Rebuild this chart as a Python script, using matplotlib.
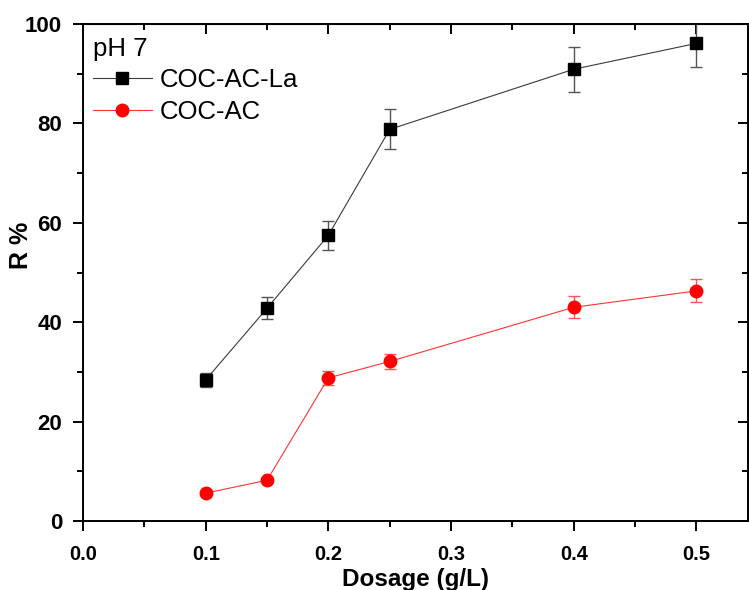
import matplotlib
matplotlib.use('Agg')
import matplotlib.pyplot as plt
from matplotlib.lines import Line2D
from matplotlib.ticker import MultipleLocator

plt.rcParams['font.family'] = ['Liberation Sans', 'DejaVu Sans']

dosage = [0.1, 0.15, 0.2, 0.25, 0.4, 0.5]
r_la = [28.4, 42.8, 57.5, 78.8, 90.9, 96.1]
err_la = [1.4, 2.2, 2.9, 4.0, 4.5, 4.8]
r_ac = [5.6, 8.2, 28.8, 32.1, 43.0, 46.3]
err_ac = [0.4, 0.4, 1.4, 1.6, 2.2, 2.3]

fig = plt.figure(figsize=(7.49, 5.9), dpi=100)
ax = fig.add_axes([83 / 749, 1 - 521 / 590, 665 / 749, 497 / 590])

ax.errorbar(dosage, r_la, yerr=err_la, color='#3a3a3a', lw=0.8,
            marker='s', ms=8, mfc='black', mec='black',
            ecolor='#555555', elinewidth=1, capsize=4.5, capthick=1)
ax.errorbar(dosage, r_ac, yerr=err_ac, color='#ff3333', lw=0.8,
            marker='o', ms=9, mfc='red', mec='red',
            ecolor='#ff5555', elinewidth=1, capsize=4.5, capthick=1)

ax.set_xlim(0, 0.542)
ax.set_ylim(0, 100)
ax.xaxis.set_major_locator(MultipleLocator(0.1))
ax.xaxis.set_minor_locator(MultipleLocator(0.05))
ax.yaxis.set_major_locator(MultipleLocator(20))
ax.yaxis.set_minor_locator(MultipleLocator(10))

for s in ax.spines.values():
    s.set_linewidth(1.4)

ax.tick_params(which='major', direction='out', length=7, width=1.4)
ax.tick_params(which='minor', direction='out', length=4, width=1.4)
ax.tick_params(axis='y', pad=8, labelsize=16)
ax.tick_params(axis='x', pad=10, labelsize=14.5)
for lbl in ax.get_xticklabels() + ax.get_yticklabels():
    lbl.set_fontweight('bold')

# inward ticks on top and right
top = ax.secondary_xaxis('top')
top.xaxis.set_major_locator(MultipleLocator(0.1))
top.xaxis.set_minor_locator(MultipleLocator(0.05))
top.tick_params(which='major', direction='in', length=7, width=1.4, labeltop=False)
top.tick_params(which='minor', direction='in', length=4, width=1.4)
right = ax.secondary_yaxis('right')
right.yaxis.set_major_locator(MultipleLocator(20))
right.yaxis.set_minor_locator(MultipleLocator(10))
right.tick_params(which='major', direction='in', length=7, width=1.4, labelright=False)
right.tick_params(which='minor', direction='in', length=4, width=1.4)

ax.set_xlabel('Dosage (g/L)', fontsize=17.5, fontweight='bold')
ax.xaxis.set_label_coords(0.5, -0.095)
ax.set_ylabel('R %', fontsize=18, fontweight='bold')
ax.yaxis.set_label_coords(-0.075, 0.555)

handles = [
    Line2D([], [], color='#3a3a3a', lw=0.8, marker='s', ms=8, mfc='black', mec='black'),
    Line2D([], [], color='#ff3333', lw=0.8, marker='o', ms=9, mfc='red', mec='red'),
]
leg = ax.legend(handles, ['COC-AC-La', 'COC-AC'], title='pH 7', loc='upper left',
                bbox_to_anchor=(0.007, 0.985), frameon=False,
                fontsize=18.5, title_fontsize=18.5,
                handlelength=2.3, handletextpad=0.3, labelspacing=0.3,
                borderpad=0.2, borderaxespad=0.0)
leg._legend_box.align = 'left'

fig.savefig('out.png', dpi=100)
